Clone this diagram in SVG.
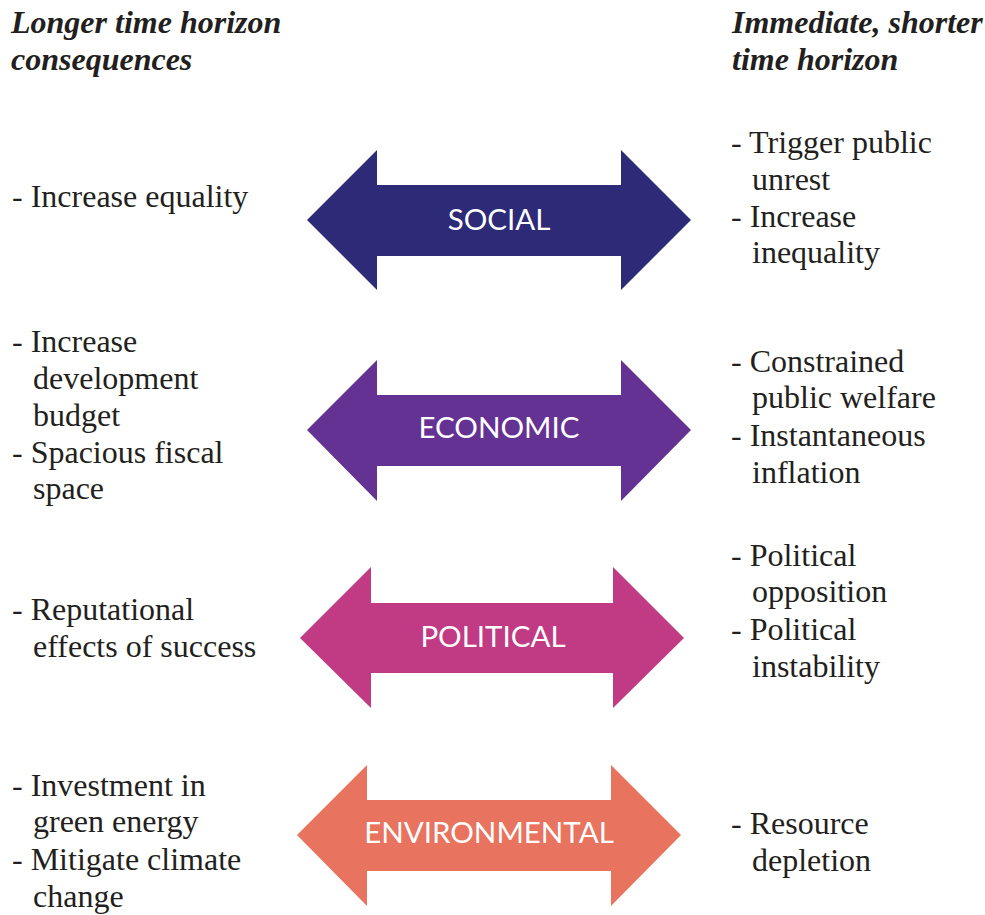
<svg xmlns="http://www.w3.org/2000/svg" width="985" height="915" viewBox="0 0 985 915">
<style>
.hd{font-family:"Liberation Serif","Times New Roman",serif;font-size:32px;font-weight:bold;font-style:italic;fill:#231f20}
.tx{font-family:"Liberation Serif","Times New Roman",serif;font-size:32px;fill:#231f20}
.lb{font-family:Lato,"Open Sans",sans-serif;font-size:29.5px;fill:#ffffff;text-anchor:middle}
</style>
<rect width="985" height="915" fill="#ffffff"/>
<g id="headers">
<text class="hd" x="11" y="33">Longer time horizon</text>
<text class="hd" x="11" y="70">consequences</text>
<text class="hd" x="732" y="33">Immediate, shorter</text>
<text class="hd" x="732" y="70">time horizon</text>
</g>
<g id="social">
<polygon points="307,220 377,150 377,185 621,185 621,150 691,220 621,290 621,256 377,256 377,290" fill="#2d2a77"/>
<text class="lb" x="499" y="230">SOCIAL</text>
</g>
<g id="economic">
<polygon points="307,430 377,360 377,395 621,395 621,360 691,430 621,501 621,466 377,466 377,501" fill="#643292"/>
<text class="lb" x="499" y="438">ECONOMIC</text>
</g>
<g id="political">
<polygon points="300,638 371,567 371,603 613,603 613,567 684,638 613,708 613,673 371,673 371,708" fill="#c03a84"/>
<text class="lb" x="493" y="647">POLITICAL</text>
</g>
<g id="environmental">
<polygon points="297,835 367,765 367,800 611,800 611,765 681,835 611,906 611,871 367,871 367,906" fill="#e8735e"/>
<text class="lb" x="489" y="843">ENVIRONMENTAL</text>
</g>
<g id="left-text">
<text class="tx" x="12" y="207">- Increase equality</text>
<text class="tx" x="12" y="352">- Increase</text>
<text class="tx" x="33" y="389">development</text>
<text class="tx" x="33" y="426">budget</text>
<text class="tx" x="12" y="463">- Spacious fiscal</text>
<text class="tx" x="33" y="499">space</text>
<text class="tx" x="12" y="620">- Reputational</text>
<text class="tx" x="33" y="657">effects of success</text>
<text class="tx" x="12" y="796">- Investment in</text>
<text class="tx" x="33" y="832">green energy</text>
<text class="tx" x="12" y="870">- Mitigate climate</text>
<text class="tx" x="33" y="907">change</text>
</g>
<g id="right-text">
<text class="tx" x="731" y="153">- Trigger public</text>
<text class="tx" x="752" y="190">unrest</text>
<text class="tx" x="731" y="227">- Increase</text>
<text class="tx" x="752" y="263">inequality</text>
<text class="tx" x="731" y="372">- Constrained</text>
<text class="tx" x="752" y="408">public welfare</text>
<text class="tx" x="731" y="446">- Instantaneous</text>
<text class="tx" x="752" y="483">inflation</text>
<text class="tx" x="731" y="566">- Political</text>
<text class="tx" x="752" y="602">opposition</text>
<text class="tx" x="731" y="640">- Political</text>
<text class="tx" x="752" y="677">instability</text>
<text class="tx" x="731" y="834">- Resource</text>
<text class="tx" x="752" y="871">depletion</text>
</g>
</svg>
